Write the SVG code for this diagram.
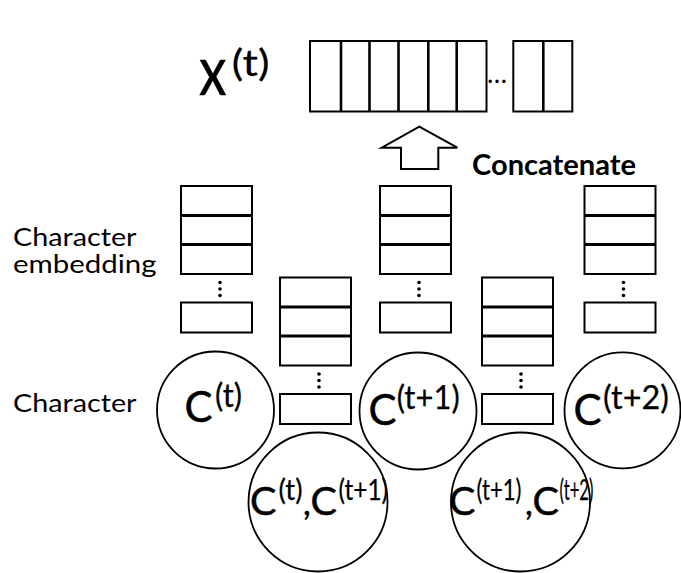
<svg xmlns="http://www.w3.org/2000/svg" width="681" height="573" viewBox="0 0 681 573">
  <style>
    .box { fill: #fff; stroke: #000; stroke-width: 2; }
    .div { stroke: #000; stroke-width: 3.2; }
    .vdiv { stroke: #000; stroke-width: 2.6; }
    .node { fill: #fff; stroke: #000; stroke-width: 1.8; }
    .dot { fill: #000; }
    .lbl { font-family: Lato, "Liberation Sans", sans-serif; fill: #000; }
    .big { stroke: #000; stroke-width: 0.5; }
    .sup { stroke-width: 0.25; }
  </style>
  <defs>
    <!-- embedding stack: three cells, a vertical ellipsis, one more cell -->
    <g id="stack">
      <rect class="box" x="0" y="0" width="71" height="88"/>
      <line class="div" x1="0" y1="29.5" x2="71" y2="29.5"/>
      <line class="div" x1="0" y1="58.5" x2="71" y2="58.5"/>
      <circle class="dot" cx="39" cy="96.5" r="1.8"/>
      <circle class="dot" cx="39" cy="103" r="1.8"/>
      <circle class="dot" cx="39" cy="109.5" r="1.8"/>
      <rect class="box" x="0" y="116.5" width="71" height="30"/>
    </g>
  </defs>

  <rect width="681" height="573" fill="#fff"/>

  <!-- row labels -->
  <g id="labels">
    <text class="lbl" x="13" y="246" font-size="24.5" textLength="123.5" lengthAdjust="spacingAndGlyphs">Character</text>
    <text class="lbl" x="13" y="273" font-size="24.5" textLength="143.5" lengthAdjust="spacingAndGlyphs">embedding</text>
    <text class="lbl" x="13" y="411.5" font-size="25" textLength="123.5" lengthAdjust="spacingAndGlyphs">Character</text>
  </g>

  <!-- concatenated vector x(t) -->
  <g id="xvec">
    <text class="lbl big" font-size="69" transform="translate(199,95) scale(0.8,1)">x<tspan class="sup" x="41" y="-19" font-size="37" textLength="47" lengthAdjust="spacingAndGlyphs">(t)</tspan></text>
    <rect class="box" x="310" y="41" width="176.5" height="70.5"/>
    <line class="vdiv" x1="341" y1="41" x2="341" y2="111.5"/>
    <line class="vdiv" x1="369.5" y1="41" x2="369.5" y2="111.5"/>
    <line class="vdiv" x1="398.5" y1="41" x2="398.5" y2="111.5"/>
    <line class="vdiv" x1="428.3" y1="41" x2="428.3" y2="111.5"/>
    <line class="vdiv" x1="456.7" y1="41" x2="456.7" y2="111.5"/>
    <text class="lbl" x="487" y="83" font-size="26" textLength="20" lengthAdjust="spacingAndGlyphs">…</text>
    <rect class="box" x="513.3" y="41" width="59" height="70.5"/>
    <line class="vdiv" x1="543.3" y1="41" x2="543.3" y2="111.5"/>
  </g>

  <!-- concatenate arrow -->
  <g id="connectors">
    <polygon class="box" points="419.3,126.7 457.3,147.7 438.3,147.7 438.3,169 401,169 401,147.7 381.7,147.7"/>
    <text class="lbl" x="472" y="175" font-size="28.5" font-weight="bold" textLength="164" lengthAdjust="spacingAndGlyphs">Concatenate</text>
  </g>

  <!-- embedding stacks -->
  <g id="emb-t"><use href="#stack" x="181" y="186"/></g>
  <g id="emb-t-t1"><use href="#stack" x="280" y="277.5"/></g>
  <g id="emb-t1"><use href="#stack" x="380" y="186"/></g>
  <g id="emb-t1-t2"><use href="#stack" x="482" y="277.5"/></g>
  <g id="emb-t2"><use href="#stack" x="584.5" y="186"/></g>

  <!-- single characters -->
  <g id="char-t">
    <circle class="node" cx="215.5" cy="410" r="58.5"/>
    <text class="lbl big" x="184.5" y="422" font-size="42">C<tspan class="sup" x="215" y="407" font-size="33" textLength="27" lengthAdjust="spacingAndGlyphs">(t)</tspan></text>
  </g>
  <g id="char-t1">
    <circle class="node" cx="418" cy="411" r="58.5"/>
    <text class="lbl big" x="368.5" y="425" font-size="42">C<tspan class="sup" x="396.7" y="409" font-size="33" textLength="63" lengthAdjust="spacingAndGlyphs">(t+1)</tspan></text>
  </g>
  <g id="char-t2">
    <circle class="node" cx="622.5" cy="410.3" r="58"/>
    <text class="lbl big" x="573.5" y="425" font-size="42">C<tspan class="sup" x="603" y="409" font-size="33" textLength="66" lengthAdjust="spacingAndGlyphs">(t+2)</tspan></text>
  </g>

  <!-- character pairs -->
  <g id="pair-t-t1">
    <circle class="node" cx="318" cy="502" r="69.5"/>
    <text class="lbl big" x="250" y="515" font-size="39.5">C<tspan class="sup" x="278.5" y="500" font-size="29" textLength="24" lengthAdjust="spacingAndGlyphs">(t)</tspan><tspan x="303" y="515" font-size="34">,</tspan><tspan x="310.5" y="515">C</tspan><tspan class="sup" x="338.5" y="500" font-size="29" textLength="49.5" lengthAdjust="spacingAndGlyphs">(t+1)</tspan></text>
  </g>
  <g id="pair-t1-t2">
    <circle class="node" cx="520.5" cy="502" r="69.5"/>
    <text class="lbl big" x="449" y="515" font-size="39.5">C<tspan class="sup" x="476.5" y="500" font-size="29" textLength="45" lengthAdjust="spacingAndGlyphs">(t+1)</tspan><tspan x="525" y="515" font-size="34">,</tspan><tspan x="532.5" y="515">C</tspan><tspan class="sup" x="559.5" y="500" font-size="29" textLength="34" lengthAdjust="spacingAndGlyphs">(t+2)</tspan></text>
  </g>
</svg>
